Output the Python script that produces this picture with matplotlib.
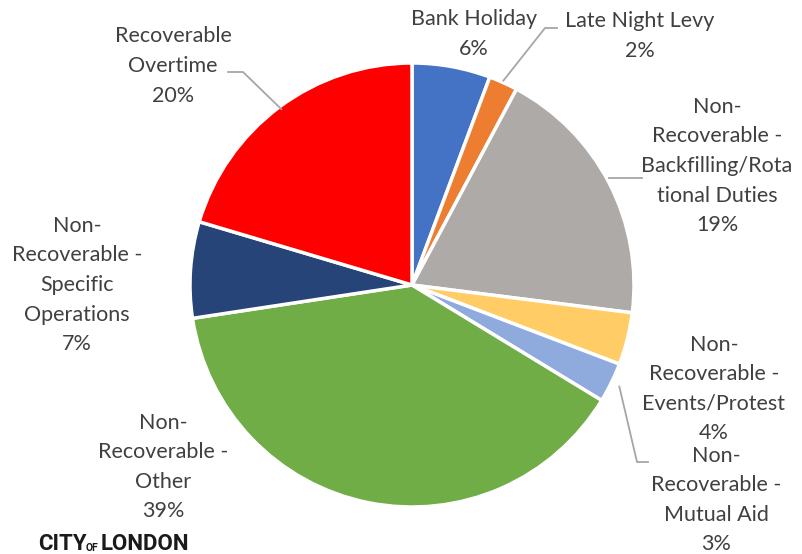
import numpy as np
import matplotlib.pyplot as plt

# Dane do wykresu
kategorie = ['Bank Holiday', 'Late Night Levy',
             'Non-\nRecoverable -\nBackfilling/Rota\ntional Duties',
             'Non-\nRecoverable -\nEvents/Protest',
             'Non-\nRecoverable -\nMutual Aid',
             'Non-\nRecoverable -\nOther',
             'Non-\nRecoverable -\nSpecific\nOperations',
             'Recoverable\nOvertime']
wartosci = [5.7, 2.1, 19.2, 3.8, 2.9, 38.9, 7.0, 20.4]
kolory = ['#4472C4', '#ED7D31', '#ADAAA7', '#FFCC66', '#8FAADC',
          '#70AD47', '#264478', '#FF0000']

# Pozycje etykiet (piksele obrazka)
pozycje_etykiet = [(474, 34), (640, 36), (717, 166), (714, 389),
                   (716, 500), (163, 467), (77, 285), (173, 66)]

W, H = 803, 554
fig = plt.figure(figsize=(W / 100, H / 100), dpi=100)
ax = fig.add_axes([0, 0, 1, 1])

cx, cy, r = 412, H - 285, 222
wedges, _ = ax.pie(wartosci, colors=kolory, startangle=90, counterclock=False,
                   center=(cx, cy), radius=r, frame=True,
                   wedgeprops=dict(edgecolor='white', linewidth=2.5))
ax.set_xlim(0, W)
ax.set_ylim(0, H)
ax.set_aspect('equal')
ax.axis('off')

kolor_tekstu = '#404040'
suma = sum(wartosci)
for i, (nazwa, val) in enumerate(zip(kategorie, wartosci)):
    px, py = pozycje_etykiet[i]
    ax.text(px, H - py, f'{nazwa}\n{round(val / suma * 100)}%',
            ha='center', va='center', fontsize=15.5, color=kolor_tekstu,
            family='Lato', linespacing=1.6)

# Linie odniesienia
kolor_linii = '#A6A6A6'


def punkt_na_brzegu(i, frac=1.0):
    w = wedges[i]
    kat = np.deg2rad((w.theta1 + w.theta2) / 2)
    return cx + r * frac * np.cos(kat), cy + r * frac * np.sin(kat)


# Late Night Levy
x0, y0 = punkt_na_brzegu(1)
ax.plot([x0, 545, 557], [y0 + 2, H - 28, H - 28], color=kolor_linii, lw=1.3)
# Recoverable Overtime
x0, y0 = punkt_na_brzegu(7)
ax.plot([228, 243, x0 + 2], [H - 72, H - 72, y0 - 2], color=kolor_linii, lw=1.3)
# Backfilling
x0, y0 = punkt_na_brzegu(2)
ax.plot([x0, 642], [H - 178, H - 178], color=kolor_linii, lw=1.3)
# Mutual Aid
x0, y0 = punkt_na_brzegu(4, 1.04)
ax.plot([x0, 637, 648], [y0, H - 462, H - 462], color=kolor_linii, lw=1.3)

# Logo
ax.text(38, H - 544, 'CITY', fontsize=16, fontweight='bold', family='Roboto',
        color='#1a1a1a', va='center', ha='left')
ax.text(86, H - 548, 'OF', fontsize=7.5, fontweight='bold', family='Roboto',
        color='#1a1a1a', va='center', ha='left')
ax.text(101, H - 544, 'LONDON', fontsize=16, fontweight='bold', family='Roboto',
        color='#1a1a1a', va='center', ha='left')

fig.savefig('out.png', dpi=100)
